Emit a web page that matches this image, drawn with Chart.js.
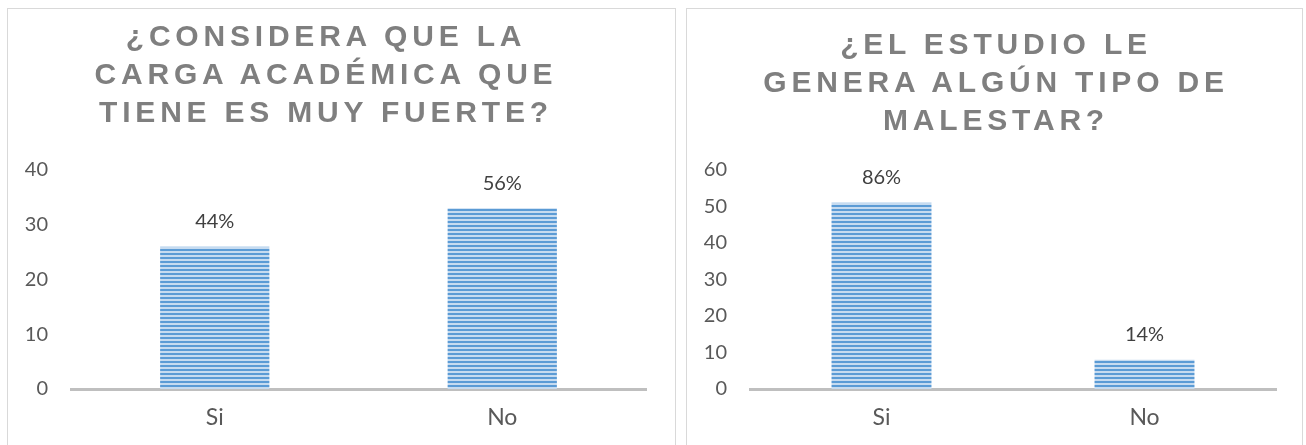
<!DOCTYPE html>
<html>
<head>
<meta charset="utf-8">
<script src="https://cdn.jsdelivr.net/npm/chart.js@4.4.1/dist/chart.umd.min.js"></script>
<style>
    body { margin: 0; width: 1306px; height: 445px; background: #fff; overflow: hidden; position: relative; }
    .box { position: absolute; top: 8px; height: 460px; border: 1px solid #d9d9d9; box-sizing: border-box; background: #fff; }
    .box canvas { position: absolute; left: 0; top: 0; }
    .title { position: absolute; text-align: center; white-space: nowrap; font-family: "Liberation Sans", Arial, sans-serif;
        font-weight: bold; font-size: 30px; line-height: 38px; letter-spacing: 4.8px; color: #7f7f7f; }
</style>
</head>
<body>
<div class="box" id="boxLeft" style="left:7px; width:669px;"><canvas id="chartLeft"></canvas></div>
<div class="box" id="boxRight" style="left:686px; width:617px;"><canvas id="chartRight"></canvas></div>
<div class="title" style="left:26px; width:600px; top:17px;">¿CONSIDERA QUE LA<br>CARGA ACADÉMICA QUE<br>TIENE ES MUY FUERTE?</div>
<div class="title" style="left:696px; width:600px; top:25px;">¿EL ESTUDIO LE<br>GENERA ALGÚN TIPO DE<br>MALESTAR?</div>
<script>
var categories = ['Si', 'No'];
var cargaValues = [26, 33];
var cargaPct = ['44%', '56%'];
var malestarValues = [51, 8];
var malestarPct = ['86%', '14%'];

function stripes() {
    var c = document.createElement('canvas');
    c.width = 4;
    c.height = 4;
    var ctx = c.getContext('2d');
    ctx.fillStyle = '#c6dbf0';
    ctx.fillRect(0, 0, 4, 4);
    ctx.fillStyle = '#5b9bd5';
    ctx.fillRect(0, 0, 4, 2);
    return ctx.createPattern(c, 'repeat');
}

var pctLabels = {
    id: 'pctLabels',
    afterDatasetsDraw: function(chart) {
        var ctx = chart.ctx;
        var labels = chart.options.plugins.pctLabels.labels;
        ctx.save();
        ctx.font = '20px Lato, "Liberation Sans", sans-serif';
        ctx.fillStyle = '#404040';
        ctx.textAlign = 'center';
        ctx.textBaseline = 'middle';
        chart.getDatasetMeta(0).data.forEach(function(bar, i) {
            ctx.fillText(labels[i], bar.x, bar.y - 25);
        });
        ctx.restore();
    }
};

function makeChart(id, w, values, pct, max, pad) {
    var canvas = document.getElementById(id);
    canvas.style.width = w + 'px';
    canvas.style.height = '437px';
    canvas.width = w;
    canvas.height = 437;
    return new Chart(canvas, {
        type: 'bar',
        data: {
            labels: categories,
            datasets: [{
                data: values,
                backgroundColor: stripes(),
                barPercentage: 0.38,
                categoryPercentage: 1
            }]
        },
        plugins: [pctLabels],
        options: {
            responsive: false,
            animation: false,
            layout: { padding: pad },
            plugins: {
                legend: { display: false },
                tooltip: { enabled: false },
                pctLabels: { labels: pct }
            },
            scales: {
                x: {
                    grid: { display: false },
                    border: { display: true, color: '#bfbfbf', width: 3 },
                    ticks: { color: '#595959', padding: 7, font: { family: 'Lato, "Liberation Sans", sans-serif', size: 23 } },
                    afterFit: function(scale) { scale.height = 50; }
                },
                y: {
                    min: 0,
                    max: max,
                    grid: { display: false, drawTicks: false },
                    border: { display: false },
                    ticks: { stepSize: 10, color: '#595959', padding: 23, font: { family: 'Lato, "Liberation Sans", sans-serif', size: 20 } },
                    afterFit: function(scale) { scale.width = 46; }
                }
            }
        }
    });
}

makeChart('chartLeft', 667, cargaValues, cargaPct, 40, { top: 161, left: 17, right: 29, bottom: 7 });
makeChart('chartRight', 615, malestarValues, malestarPct, 60, { top: 161, left: 17, right: 26, bottom: 7 });
</script>
</body>
</html>
